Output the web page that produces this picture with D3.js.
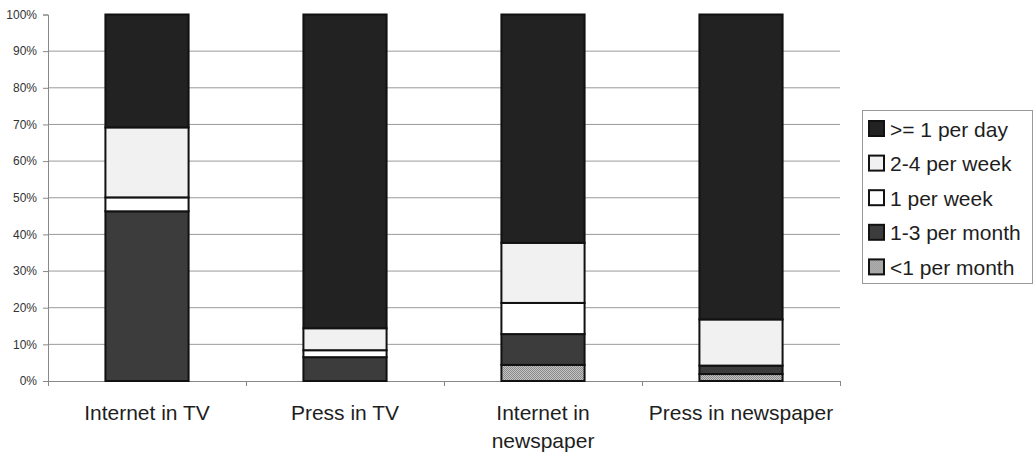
<!DOCTYPE html>
<html>
<head>
<meta charset="utf-8">
<script src="https://cdn.jsdelivr.net/npm/d3@7"></script>
<style>
  html, body { margin: 0; padding: 0; background: #fff; }
  svg { display: block; font-family: "Liberation Sans", Arial, Helvetica, sans-serif; }
</style>
</head>
<body>
<svg id="chart" width="1034" height="452"></svg>
<script>
// Categories along the x axis
const categories = ["Internet in TV", "Press in TV", "Internet in newspaper", "Press in newspaper"];

// Frequency series, bottom of the stack first (percent of respondents)
const seriesNames = ["<1 per month", "1-3 per month", "1 per week", "2-4 per week", ">= 1 per day"];
const lessThanMonthly = [0, 0, 4.4, 1.9];
const oneToThreeMonthly = [46.3, 6.5, 8.4, 2.3];
const oncePerWeek = [3.8, 1.9, 8.5, 0];
const twoToFourWeekly = [19.1, 6.0, 16.4, 12.6];
const daily = [30.8, 85.6, 62.3, 83.2];

const yTicks = [0, 10, 20, 30, 40, 50, 60, 70, 80, 90, 100];
const yTickLabels = ["0%", "10%", "20%", "30%", "40%", "50%", "60%", "70%", "80%", "90%", "100%"];

const seriesValues = [lessThanMonthly, oneToThreeMonthly, oncePerWeek, twoToFourWeekly, daily];

// Table for d3.stack
const table = categories.map((c, i) => {
  const row = { category: c };
  seriesNames.forEach((s, k) => { row[s] = seriesValues[k][i]; });
  return row;
});

const svg = d3.select("#chart");
const plotLeft = 48, plotRight = 840, plotTop = 14.5, plotBottom = 381;

const defs = svg.append("defs");
const stipple = defs.append("pattern")
  .attr("id", "stipple").attr("patternUnits", "userSpaceOnUse")
  .attr("width", 2).attr("height", 2);
stipple.append("rect").attr("width", 2).attr("height", 2).attr("fill", "#c4c4c4");
stipple.append("rect").attr("width", 1).attr("height", 1).attr("fill", "#8a8a8a");
stipple.append("rect").attr("x", 1).attr("y", 1).attr("width", 1).attr("height", 1).attr("fill", "#8a8a8a");

const fills = {
  "<1 per month": "url(#stipple)",
  "1-3 per month": "#3c3c3c",
  "1 per week": "#ffffff",
  "2-4 per week": "#f1f1f1",
  ">= 1 per day": "#222222"
};

const x = d3.scaleBand().domain(categories).range([plotLeft, plotRight])
  .paddingInner(0.58).paddingOuter(0.29);
const y = d3.scaleLinear().domain([0, 100]).range([plotBottom, plotTop]);

// Gridlines (inner ticks only)
svg.append("g")
  .selectAll("line").data(yTicks.filter(t => t > 0 && t < 100)).join("line")
  .attr("x1", plotLeft).attr("x2", plotRight)
  .attr("y1", d => y(d)).attr("y2", d => y(d))
  .attr("stroke", "#9a9a9a").attr("stroke-width", 1);

// Y axis
const yAxis = svg.append("g").attr("transform", `translate(${plotLeft},0)`)
  .call(d3.axisLeft(y).tickValues(yTicks).tickSize(5).tickPadding(6)
    .tickFormat((d, i) => yTickLabels[i]));
yAxis.select(".domain").attr("stroke", "#888");
yAxis.selectAll(".tick line").attr("stroke", "#888");
yAxis.selectAll("text").attr("font-size", 12).attr("fill", "#333");

// X axis: boundary ticks
const xb = d3.scaleLinear().domain([0, categories.length]).range([plotLeft, plotRight]);
const xAxis = svg.append("g").attr("transform", `translate(0,${plotBottom})`)
  .call(d3.axisBottom(xb).ticks(categories.length).tickSize(5).tickFormat(""));
xAxis.select(".domain").attr("stroke", "#888");
xAxis.selectAll(".tick line").attr("stroke", "#888");

// Category labels
const labelG = svg.append("g").attr("transform", `translate(0,${plotBottom})`)
  .call(d3.axisBottom(x).tickSize(0).tickPadding(0));
labelG.select(".domain").remove();
labelG.selectAll("text")
  .attr("font-size", 21).attr("fill", "#1e1e1e")
  .attr("y", 39).attr("dy", 0)
  .each(function(d) {
    const t = d3.select(this);
    const words = d.split(" ");
    t.text(null);
    let line = [];
    let tspan = t.append("tspan").attr("x", 0).attr("dy", 0);
    words.forEach(w => {
      line.push(w);
      tspan.text(line.join(" "));
      if (tspan.node().getComputedTextLength() > 192 && line.length > 1) {
        line.pop();
        tspan.text(line.join(" "));
        line = [w];
        tspan = t.append("tspan").attr("x", 0).attr("dy", 28).text(w);
      }
    });
  });

// Stacked bars
const stacked = d3.stack().keys(seriesNames)(table);
svg.append("g").selectAll("g").data(stacked).join("g")
  .attr("fill", d => fills[d.key])
  .selectAll("rect").data(d => d.filter(p => p[1] - p[0] > 0)).join("rect")
  .attr("x", d => x(d.data.category))
  .attr("width", x.bandwidth())
  .attr("y", d => y(d[1]))
  .attr("height", d => y(d[0]) - y(d[1]))
  .attr("stroke", "#111").attr("stroke-width", 2);

// Legend
const legend = svg.append("g").attr("transform", "translate(862,110)");
legend.append("rect").attr("x", 0.5).attr("y", 0.5).attr("width", 170).attr("height", 173)
  .attr("fill", "#fff").attr("stroke", "#999").attr("stroke-width", 1);
const items = seriesNames.slice().reverse();
const li = legend.selectAll("g.item").data(items).join("g").attr("class", "item")
  .attr("transform", (d, i) => `translate(0,${18 + i * 34.6})`);
li.append("rect").attr("x", 7).attr("y", -7).attr("width", 15).attr("height", 15)
  .attr("fill", d => fills[d]).attr("stroke", "#111").attr("stroke-width", 2);
li.append("text").attr("x", 28).attr("y", 1).attr("dy", "0.36em")
  .attr("font-size", 21).attr("fill", "#1e1e1e").text(d => d);
</script>
</body>
</html>
